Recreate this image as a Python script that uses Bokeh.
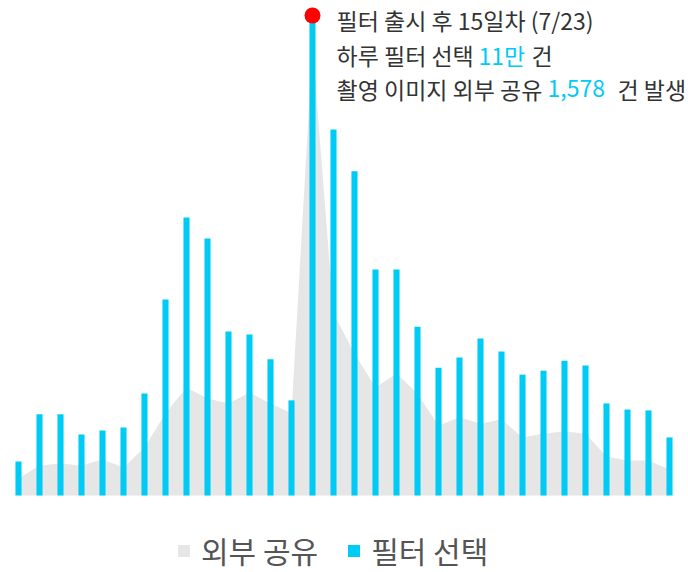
from bokeh.plotting import figure
from bokeh.models import Range1d, Legend, LegendItem, ColumnDataSource
from bokeh.core.properties import value
from bokeh.embed import file_html
from bokeh.resources import INLINE

# ---- data ----
days = list(range(1, 33))
filter_select = [7800, 18600, 18600, 14000, 14900, 15600, 23400, 44900, 63700, 58900,
                 37600, 36900, 31200, 21800, 110000, 83900, 74300, 51800, 51800, 38700,
                 29300, 31600, 36000, 33000, 27700, 28600, 30900, 29800, 21100, 19700,
                 19500, 13300]
external_share = [60, 105, 112, 105, 126, 98, 168, 288, 379, 340,
                  323, 361, 323, 288, 1578, 638, 498, 379, 428, 358,
                  245, 274, 252, 267, 203, 217, 224, 217, 137, 123,
                  123, 91]
peak_day = 15
peak_value = 110000
series_names = ["외부 공유", "필터 선택"]
note_line1 = "필터 출시 후 15일차 (7/23)"
note_line2 = ["하루 필터 선택", "11만", "건"]
note_line3 = ["촬영 이미지 외부 공유", "1,578", "건 발생"]

FONT = "Noto Sans CJK KR"
CYAN = "#00cbf5"
GRAY = "#e6e6e6"
DARK = "#333333"

W, H = 688, 572
step = 21.0                 # px per day
bar_px = 110000 / 480.0     # value per px (bars)
area_px = 1578 / 450.0      # value per px (area)
x0 = 1 - 18 / step

p = figure(width=W, height=H, output_backend="svg", toolbar_location=None,
           x_range=Range1d(x0, x0 + W / step),
           y_range=Range1d(-(H - 495) * bar_px, 495 * bar_px),
           min_border=0, min_border_left=0, min_border_right=0,
           min_border_top=0, min_border_bottom=0)
p.extra_y_ranges = {"share": Range1d(-(H - 495) * area_px, 495 * area_px)}
p.axis.visible = False
p.grid.visible = False
p.outline_line_color = None
p.background_fill_color = "white"
p.border_fill_color = "white"

src = ColumnDataSource(dict(day=days, sel=filter_select, share=external_share,
                            zero=[0] * len(days)))

area = p.varea(x="day", y1="zero", y2="share", source=src, fill_color=GRAY,
               y_range_name="share")
bars = p.vbar(x="day", top="sel", width=0.29, source=src, fill_color=CYAN,
              line_color=None)

# peak marker
p.scatter(x=[peak_day], y=[peak_value], size=16, fill_color="#ff0000", line_color=None)

fs = "23px"
xo = 24
p.text(x=[peak_day], y=[peak_value], text=[note_line1], x_offset=xo, y_offset=4,
       text_font=value(FONT), text_font_size=fs, text_color=DARK, text_baseline="middle")

seg_col = [DARK, CYAN, DARK]
seg2_off = [xo, 166, 219]
for t, o, c in zip(note_line2, seg2_off, seg_col):
    p.text(x=[peak_day], y=[peak_value], text=[t], x_offset=o, y_offset=39,
           text_font=value(FONT), text_font_size=fs, text_color=c, text_baseline="middle")

seg3_off = [xo, 235, 305]
for t, o, c in zip(note_line3, seg3_off, seg_col):
    p.text(x=[peak_day], y=[peak_value], text=[t], x_offset=o, y_offset=73,
           text_font=value(FONT), text_font_size=fs, text_color=c, text_baseline="middle")

legend = Legend(items=[LegendItem(label=series_names[0], renderers=[area]),
                       LegendItem(label=series_names[1], renderers=[bars])],
                orientation="horizontal", location=(176, 0),
                label_text_font=FONT, label_text_font_size="30px",
                label_text_color="#555555", glyph_width=15, glyph_height=15,
                label_standoff=10, spacing=28, padding=0, margin=0,
                border_line_color=None, background_fill_alpha=0)
p.add_layout(legend)

open("out.html", "w").write(file_html(p, INLINE))
